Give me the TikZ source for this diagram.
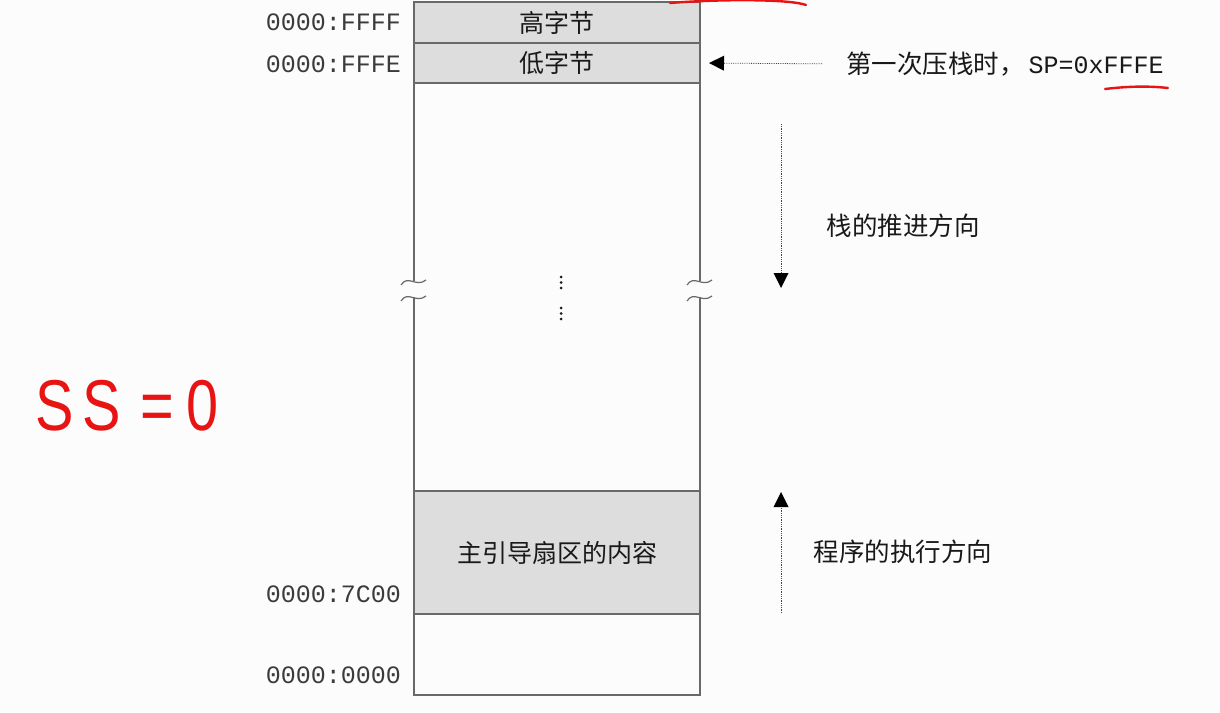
\documentclass[tikz,border=0pt]{standalone}
\usepackage{fontspec}
\newfontfamily\cjk{Noto Sans CJK SC}
\newfontfamily\mono{Liberation Mono}
\newfontfamily\hand{Liberation Sans}
\usetikzlibrary{arrows.meta}
\definecolor{cellgray}{RGB}{221,221,221}
\definecolor{edge}{RGB}{105,105,105}
\definecolor{bg}{RGB}{252,252,252}
\definecolor{ink}{RGB}{25,25,25}
\definecolor{mark}{RGB}{232,20,20}
\begin{document}
\begin{tikzpicture}[x=1pt,y=-1pt,
 cell/.style={draw=edge, line width=1.4pt, fill=cellgray, minimum width=286pt, inner sep=0pt, outer sep=0pt, font=\cjk\fontsize{25}{25}\selectfont, text=ink},
 addr/.style={anchor=east, inner sep=0pt, font=\mono\fontsize{25}{25}\selectfont, text=ink!85},
 note/.style={inner sep=0pt, font=\cjk\fontsize{25.5}{25.5}\selectfont, text=ink},
 flow/.style={densely dotted, line width=0.8pt, draw=ink!80, -{Triangle[length=15pt,width=15pt,fill=black,line width=0pt]}},
 side/.style={draw=edge, line width=1.4pt},
 tilde/.style={draw=edge, line width=1.2pt},
 redpen/.style={draw=mark, line width=2.4pt, line cap=round}]
\fill[bg] (0,0) rectangle (1220,712);
\useasboundingbox (0,0) rectangle (1220,712);

% memory cells
\node[cell, minimum height=41pt] (hi) at (557,22.5) {高字节};
\node[cell, minimum height=40pt] (lo) at (557,63) {低字节};
\node[cell, minimum height=123pt] (mbr) at (557,552.5) {主引导扇区的内容};
\node[cell, fill=bg, minimum height=81pt] (base) at (557,654.5) {};

% broken sides
\coordinate (bl1) at (414,281);
\coordinate (bl2) at (414,297);
\coordinate (br1) at (700,281);
\coordinate (br2) at (700,297);
\draw[side] (lo.south west) -- (bl1);
\draw[side] (bl2) -- (mbr.north west);
\draw[side] (lo.south east) -- (br1);
\draw[side] (br2) -- (mbr.north east);
\foreach \p in {bl1,bl2,br1,br2}
  \draw[tilde] ([shift={(-13,4)}]\p) .. controls ([shift={(-6,-7)}]\p) and ([shift={(2,7)}]\p) .. ([shift={(12,-1)}]\p);

% ellipsis dots
\foreach \yy in {277,282.5,288,308,313.5,319}
  \fill[ink] (561,\yy) circle (1.5pt);

% addresses
\node[addr] (aFFFF) at (401,22) {0000:FFFF};
\node[addr] (aFFFE) at (401,64) {0000:FFFE};
\node[addr] (a7C00) at (401,594) {0000:7C00};
\node[addr] (a0000) at (401,675) {0000:0000};

% notes
\node[note, anchor=west] (first) at (846,64) {第一次压栈时，\hspace{4pt}{\mono\fontsize{25}{25}\selectfont SP=0xFFFE}};
\node[note] (push) at (903,226) {栈的推进方向};
\node[note] (exec) at (903,552) {程序的执行方向};

% arrows
\draw[flow, shorten <=24pt, shorten >=9pt] (first.west) -- (lo.east);
\coordinate (d1) at (781,124);
\coordinate (d2) at (781,288);
\draw[flow] (d1) -- (d2);
\coordinate (u1) at (781,613);
\coordinate (u2) at (781,492);
\draw[flow] (u1) -- (u2);

% red handwritten marks
\draw[redpen] (670,3) .. controls (720,-1) and (790,-1) .. (806,5);
\draw[redpen] (1105,89) .. controls (1130,86) and (1150,86) .. (1168,88);
\node[text=mark, font=\hand\fontsize{72}{72}\selectfont, inner sep=0pt] (ss) at (127,406)
  {\scalebox{0.8}[1]{S\hspace{10pt}S\hspace{25pt}=\hspace{15pt}0}};
\end{tikzpicture}
\end{document}
